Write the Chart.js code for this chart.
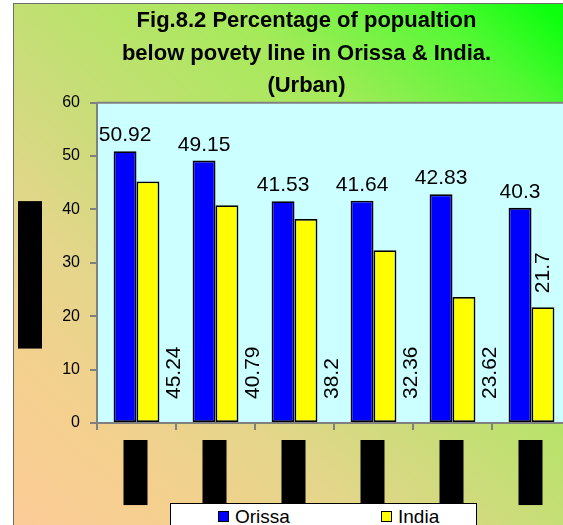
<!DOCTYPE html>
<html>
<head>
<meta charset="utf-8">
<title>Urban poverty, Orissa and India</title>
<script src="https://cdn.jsdelivr.net/npm/chart.js@4.4.1/dist/chart.umd.min.js"></script>
<style>
  html, body { margin: 0; padding: 0; background: #fff; overflow: hidden; }
  body { width: 563px; height: 525px; position: relative; font-family: 'Liberation Sans', Arial, sans-serif; }
  #frame {
    position: absolute; left: 13px; top: 3px; width: 592px; height: 540px;
    border-left: 1.5px solid #6e6e6e; border-top: 1.5px solid #6e6e6e;
    background: linear-gradient(to top right, #fdcb99 0%, #f4d08e 17%, #e3d68a 32%, #cbdc7a 45%,
      #a5ea5a 68%, #55f835 85%, #11ff11 94%, #00ff00 100%);
  }
  #chart { position: absolute; left: 0; top: 0; }
  #legend {
    position: absolute; left: 170px; top: 503px; width: 307px; height: 30px;
    background: #fff; border: 1px solid #000; box-sizing: border-box;
  }
  #legend .item { position: absolute; top: 2px; font-size: 19px; line-height: 22px; color: #000; white-space: nowrap; }
  #legend .swatch {
    display: inline-block; width: 9px; height: 9px; border: 1px solid #000;
    margin-right: 6px; vertical-align: 1px;
  }
</style>
</head>
<body>
<div id="frame"><canvas id="chart" width="578" height="534"></canvas></div>
<div id="legend"></div>

<script>
// years are hidden under black boxes in the printed figure
const years  = ['1977-78', '1983-84', '1987-88', '1993-94', '1999-00', '2004-05'];
const orissa = [50.92, 49.15, 41.53, 41.64, 42.83, 40.3];
const india  = [45.24, 40.79, 38.2, 32.36, 23.62, 21.7];
const yTicks = [0, 10, 20, 30, 40, 50, 60];
const titleLines = ['Fig.8.2 Percentage of popualtion', 'below povety line in Orissa & India.', '(Urban)'];
const yAxisTitle = 'Percentage of population';

const FONT = '"Liberation Sans", Arial, sans-serif';

// light cyan plot area with grey top edge
const plotBg = {
  id: 'plotBg',
  beforeDraw(chart) {
    const { ctx, chartArea: a } = chart;
    ctx.save();
    ctx.fillStyle = '#ccffff';
    ctx.fillRect(a.left, a.top, a.width, a.height);
    ctx.strokeStyle = '#808080';
    ctx.lineWidth = 2;
    ctx.beginPath();
    ctx.moveTo(a.left, a.top);
    ctx.lineTo(a.right + 20, a.top);
    ctx.stroke();
    ctx.restore();
  }
};

// y axis title, blacked out
const yTitle = {
  id: 'yTitle',
  afterDraw(chart) {
    const { ctx, chartArea: a } = chart;
    const cx = chart.scales.y.left - 12;
    const cy = (a.top + a.bottom) / 2 + 12;
    ctx.save();
    ctx.translate(cx, cy);
    ctx.rotate(-Math.PI / 2);
    ctx.font = '12px ' + FONT;
    const w = ctx.measureText(yAxisTitle).width + 14;
    ctx.fillStyle = '#000';
    ctx.fillRect(-w / 2, -12, w, 24);
    ctx.textAlign = 'center';
    ctx.textBaseline = 'middle';
    ctx.fillText(yAxisTitle, 0, 0);
    ctx.restore();
  }
};

// value labels: Orissa above the bars, India turned on its side
const valueLabels = {
  id: 'valueLabels',
  afterDatasetsDraw(chart) {
    const { ctx } = chart;
    const base = chart.scales.y.getPixelForValue(0);
    ctx.save();
    ctx.fillStyle = '#000';
    ctx.font = '21px ' + FONT;

    chart.getDatasetMeta(0).data.forEach((bar, i) => {
      ctx.textAlign = 'center';
      ctx.textBaseline = 'alphabetic';
      ctx.fillText(String(orissa[i]), bar.x, bar.y - 10);
    });

    const meta = chart.getDatasetMeta(1);
    meta.data.forEach((bar, i) => {
      const last = i === meta.data.length - 1;
      const x = last ? bar.x : bar.x + bar.width + 3;
      const y = last ? bar.y - 14 : base - 24;
      ctx.save();
      ctx.translate(x, y);
      ctx.rotate(-Math.PI / 2);
      ctx.textAlign = 'left';
      ctx.textBaseline = 'middle';
      ctx.fillText(String(india[i]), 0, 0);
      ctx.restore();
    });
    ctx.restore();
  }
};

const datasets = [
  { label: 'Orissa', data: orissa, backgroundColor: '#0000ff' },
  { label: 'India',  data: india,  backgroundColor: '#ffff00' }
].map(d => Object.assign(d, {
  borderColor: '#000',
  borderWidth: 1.8,
  borderSkipped: false,
  categoryPercentage: 0.58,
  barPercentage: 1
}));

new Chart(document.getElementById('chart'), {
  type: 'bar',
  data: { labels: years, datasets },
  plugins: [plotBg, yTitle, valueLabels],
  options: {
    responsive: false,
    animation: false,
    layout: { padding: { left: 28, right: 21, top: 0, bottom: 20 } },
    plugins: {
      legend: { display: false },
      tooltip: { enabled: false },
      title: {
        display: true,
        text: titleLines,
        color: '#000',
        font: { family: FONT, size: 22, weight: 'bold', lineHeight: 1.48 },
        padding: { top: 1, bottom: 0 }
      }
    },
    scales: {
      x: {
        grid: { offset: true, drawOnChartArea: false, tickLength: 7, color: '#808080', lineWidth: 2 },
        border: { color: '#808080', width: 2 },
        ticks: {
          autoSkip: false, minRotation: 90, maxRotation: 90,
          color: '#000', font: { family: FONT, size: 15 }, padding: 15,
          labelOffset: -10,
          showLabelBackdrop: true, backdropColor: '#000',
          backdropPadding: { top: 3, bottom: 3, left: 5, right: 5 }
        },
        afterFit: s => { s.height = 95; }
      },
      y: {
        min: yTicks[0],
        max: yTicks[yTicks.length - 1],
        afterBuildTicks: s => { s.ticks = yTicks.map(v => ({ value: v })); },
        ticks: { color: '#000', font: { family: FONT, size: 16 }, padding: 10 },
        grid: { drawOnChartArea: false, tickLength: 7, color: '#808080', lineWidth: 2 },
        border: { color: '#808080', width: 2 },
        afterFit: s => { s.width = 55; }
      }
    }
  }
});

// legend box under the axis labels
const legend = document.getElementById('legend');
const legendLeft = [47, 210];
datasets.forEach((d, i) => {
  const item = document.createElement('span');
  item.className = 'item';
  item.style.left = legendLeft[i] + 'px';
  item.innerHTML = '<span class="swatch" style="background:' + d.backgroundColor + '"></span>' + d.label;
  legend.appendChild(item);
});
</script>
</body>
</html>
